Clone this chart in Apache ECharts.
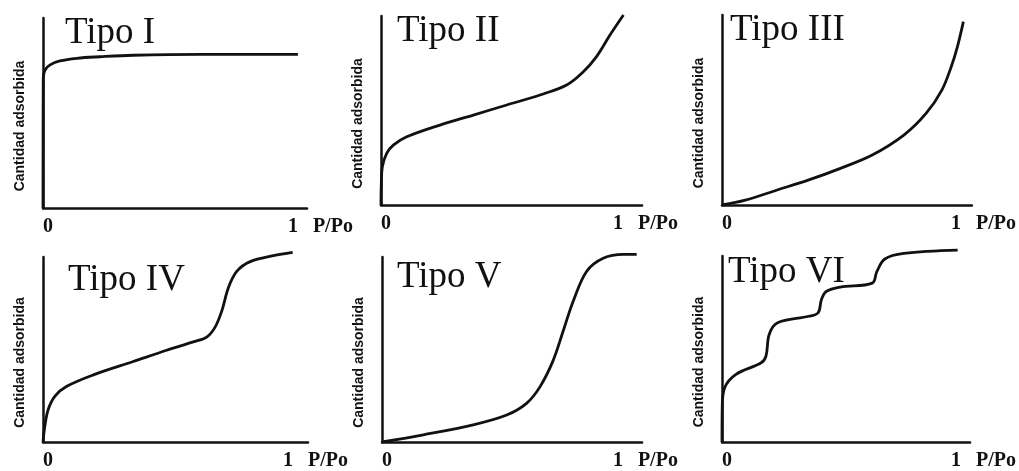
<!DOCTYPE html>
<html>
<head>
<meta charset="utf-8">
<script src="https://cdn.jsdelivr.net/npm/echarts@6/dist/echarts.min.js"></script>
<style>
  html, body { margin: 0; padding: 0; background: #fff; }
  #main { width: 1019px; height: 471px; }
</style>
</head>
<body>
<div id="main"></div>
<script>
// isotherm shapes: [P/Po, amount adsorbed (0-100 of the axis)]
var tipoI = [[0, 0], [0.001, 68], [0.008, 72.6], [0.029, 75.3], [0.069, 77.4], [0.138, 78.8],
  [0.233, 79.6], [0.367, 80.4], [0.641, 80.9], [1.041, 80.9]];
var tipoII = [[0, 0], [0.001, 9.7], [0.006, 20.3], [0.025, 27.4], [0.053, 31.7], [0.111, 36.1],
  [0.254, 42.3], [0.398, 47.6], [0.542, 52.9], [0.685, 58.2], [0.8, 63.5], [0.872, 70.5],
  [0.929, 78.5], [0.987, 89.9], [1.045, 100.5]];
var tipoIII = [[0, 0], [0.102, 2.6], [0.241, 7.9], [0.379, 13.2], [0.517, 19.3], [0.656, 26.3],
  [0.794, 36.8], [0.891, 48.2], [0.96, 60.5], [1.001, 72.8], [1.029, 83.8], [1.054, 96.5]];
var tipoIV = [[0, 0], [0.008, 8.9], [0.022, 17.7], [0.05, 24.8], [0.099, 30.1], [0.21, 36.3],
  [0.376, 43.5], [0.515, 49.6], [0.626, 54.1], [0.682, 56.7], [0.717, 62.1], [0.745, 70.9],
  [0.772, 83.3], [0.807, 92.2], [0.863, 97.5], [0.96, 100.7], [1.04, 102.5]];
var tipoV = [[0, 0], [0.179, 3.9], [0.395, 9.3], [0.54, 14.6], [0.626, 20.9], [0.684, 29.8],
  [0.741, 44], [0.785, 60.1], [0.828, 76.1], [0.886, 92.2], [0.958, 99.3], [1.045, 101.4],
  [1.103, 101.4]];
var tipoVI = [[0, 0], [0.001, 18.6], [0.012, 29.3], [0.061, 36.4], [0.171, 42.6], [0.192, 46.2],
  [0.206, 57.8], [0.241, 64], [0.379, 67.6], [0.42, 69.5], [0.434, 76.5], [0.455, 80.9],
  [0.517, 83.3], [0.656, 85.4], [0.676, 91.6], [0.711, 98.4], [0.794, 101.4], [1.029, 103.2]];

var titles = ['Tipo I', 'Tipo II', 'Tipo III', 'Tipo IV', 'Tipo V', 'Tipo VI'];
var curves = [tipoI, tipoII, tipoIII, tipoIV, tipoV, tipoVI];
var xTicks = [0, 1];
var xName = 'P/Po';
var yName = 'Cantidad adsorbida';

// panel frames in px: left, top, width, height, axis max
var frames = [
  [43, 18, 264, 190, 1.078],
  [381, 16, 261, 189, 1.125],
  [722, 15, 263, 190, 1.091],
  [43, 257, 265, 188, 1.104],
  [382, 257, 260, 187, 1.126],
  [722, 256, 261, 187, 1.083]
];
var titlePos = [[65, 15], [397, 13], [730, 12], [68, 262], [397, 259], [728, 254]];

var ink = '#111';
var chart = echarts.init(document.getElementById('main'));
var option = { backgroundColor: '#fff', animation: false, title: [], grid: [], xAxis: [], yAxis: [], series: [] };

frames.forEach(function (f, i) {
  option.title.push({
    text: titles[i], left: titlePos[i][0], top: titlePos[i][1], padding: 0,
    textStyle: { fontFamily: 'Liberation Serif', fontWeight: 'normal', fontSize: 37, color: ink }
  });
  option.grid.push({ left: f[0], top: f[1], width: f[2], height: f[3] });
  option.xAxis.push({
    type: 'value', gridIndex: i, min: 0, max: f[4], interval: 1,
    axisLine: { lineStyle: { color: ink, width: 2.5 } },
    axisTick: { show: false }, splitLine: { show: false },
    axisLabel: {
      showMaxLabel: false, align: 'left', margin: 9, color: ink,
      fontFamily: 'Liberation Serif', fontWeight: 'bold', fontSize: 20,
      formatter: function (v) {
        if (v === xTicks[0]) return '0';
        if (v === xTicks[1]) return '1   ' + xName;
        return '';
      }
    }
  });
  option.yAxis.push({
    type: 'value', gridIndex: i, min: 0, max: 100,
    axisLine: { onZero: false, lineStyle: { color: ink, width: 2.5 } },
    axisTick: { show: false }, splitLine: { show: false }, axisLabel: { show: false },
    name: yName, nameLocation: 'middle', nameGap: 16,
    nameTextStyle: { fontFamily: 'Liberation Sans', fontWeight: 'bold', fontSize: 14, color: ink, padding: [0, 26, 0, 0] }
  });
  option.series.push({
    type: 'line', xAxisIndex: i, yAxisIndex: i, data: curves[i],
    smooth: 0.35, symbol: 'none', clip: false,
    lineStyle: { color: ink, width: 2.8 }
  });
});

chart.setOption(option);
</script>
</body>
</html>
